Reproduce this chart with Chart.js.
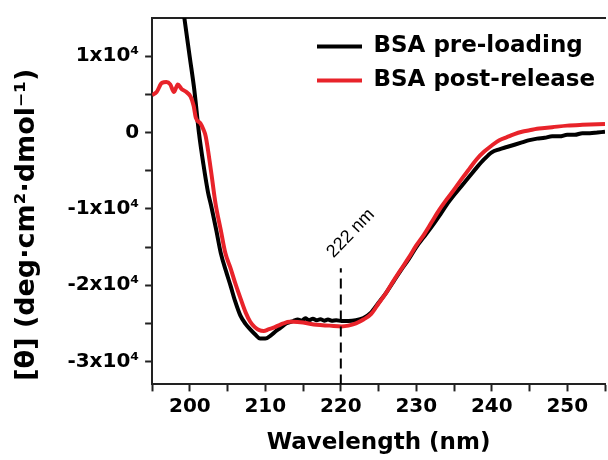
<!DOCTYPE html>
<html>
<head>
<meta charset="utf-8">
<script src="https://cdn.jsdelivr.net/npm/chart.js@4.4.1/dist/chart.umd.min.js"></script>
<style>
  html, body { margin: 0; padding: 0; background: #fff; }
  #box { width: 608px; height: 460px; position: relative; }
</style>
</head>
<body>
<div id="box"><canvas id="cd"></canvas></div>
<script>
// CD spectra, values
var seriesNames = ['BSA pre-loading', 'BSA post-release'];

var wavePre = [198.4, 199.3, 200.0, 200.6, 201.2, 201.8, 202.4, 202.8, 203.5, 204.1, 204.8, 205.4, 206.0, 206.7, 207.4, 208.0, 208.7, 209.3, 210.0, 210.7, 211.3, 212.0, 212.8, 213.7, 214.3, 214.8, 215.3, 215.8, 216.3, 216.8, 217.3, 217.8, 218.3, 218.8, 219.4, 220.1, 221.0, 222.0, 223.0, 224.0, 225.0, 226.0, 227.0, 228.0, 229.0, 230.0, 231.0, 232.0, 233.0, 234.0, 235.0, 236.0, 237.0, 238.0, 239.0, 240.0, 241.0, 242.0, 243.0, 244.0, 245.0, 246.0, 247.0, 248.0, 249.0, 250.0, 251.0, 252.0, 253.0, 254.0, 255.0];
var thetaPre = [22000, 14800, 9800, 5500, 0, -4200, -7800, -9500, -12800, -15800, -18200, -20100, -22100, -24000, -25100, -25800, -26500, -27000, -27000, -26600, -26100, -25600, -25000, -24700, -24500, -24650, -24350, -24600, -24400, -24600, -24450, -24650, -24500, -24650, -24600, -24700, -24700, -24600, -24300, -23600, -22300, -21000, -19500, -18000, -16600, -15000, -13700, -12400, -11000, -9500, -8200, -7000, -5800, -4600, -3500, -2600, -2200, -1900, -1600, -1300, -1000, -800, -700, -500, -500, -300, -300, -100, -100, 0, 100];

var wavePost = [195.0, 195.6, 196.3, 196.9, 197.4, 197.9, 198.4, 198.9, 199.4, 200.1, 200.5, 200.8, 201.4, 201.8, 202.1, 202.8, 203.4, 204.1, 204.7, 205.4, 206.0, 206.7, 207.4, 208.0, 208.6, 209.2, 209.8, 210.4, 211.0, 211.7, 212.4, 213.2, 213.7, 215.0, 216.8, 218.5, 220.1, 221.0, 222.0, 223.0, 224.0, 225.0, 226.0, 227.0, 228.0, 229.0, 230.0, 231.0, 232.0, 233.0, 234.0, 235.0, 236.0, 237.0, 238.0, 239.0, 240.0, 241.0, 242.0, 243.0, 244.0, 245.0, 246.0, 247.0, 248.0, 250.0, 252.0, 255.0];
var thetaPost = [4900, 5300, 6500, 6600, 6300, 5300, 6300, 5700, 5400, 4700, 3500, 1900, 1200, 400, -500, -5000, -9300, -12800, -15800, -17800, -19700, -21700, -23600, -24800, -25500, -25900, -26000, -25800, -25600, -25300, -25000, -24800, -24800, -24900, -25200, -25300, -25400, -25300, -25000, -24500, -23800, -22400, -21000, -19400, -17900, -16400, -14800, -13400, -11800, -10200, -8800, -7500, -6100, -4800, -3500, -2500, -1700, -1000, -600, -200, 100, 300, 500, 600, 700, 900, 1000, 1100];

var markerX = 220;
var markerTop = -17800;
var markerLabel = '222 nm';

var xMin = 195, xMax = 255;
var yMin = -33000, yMax = 15000;
var xTickLabels = [200, 210, 220, 230, 240, 250];
var yTickLabels = [10000, 0, -10000, -20000, -30000];

function toPoints(xs, ys) {
  return xs.map(function(v, i) { return {x: v, y: ys[i]}; });
}

var FONT = '"DejaVu Sans", Arial, sans-serif';
var FONT2 = '"Liberation Sans", Arial, sans-serif';

// ticks every `step` (major + minor) between lo and hi, only some get a label
function stepTicks(step, lo, hi) {
  return function(scale) {
    var out = [];
    for (var v = lo; v <= hi + 1e-9; v += step) {
      out.push({value: v});
    }
    scale.ticks = out;
  };
}

var legendSpot = {
  id: 'legendSpot',
  afterLayout: function(chart) {
    var lg = chart.legend, ca = chart.chartArea;
    if (!lg) return;
    var w = lg.width, h = lg.height;
    lg.left = ca.right - 299;
    lg.right = lg.left + w;
    lg.top = ca.top + 6;
    lg.bottom = lg.top + h;
  }
};

var markerText = {
  id: 'markerText',
  afterDatasetsDraw: function(chart) {
    var ctx = chart.ctx;
    var px = chart.scales.x.getPixelForValue(markerX);
    var py = chart.scales.y.getPixelForValue(markerTop);
    ctx.save();
    ctx.translate(px + 10, py - 35);
    ctx.rotate(-46 * Math.PI / 180);
    ctx.font = '18px ' + FONT2;
    ctx.fillStyle = '#000';
    ctx.textAlign = 'center';
    ctx.textBaseline = 'middle';
    ctx.fillText(markerLabel, 0, 0);
    ctx.restore();
  }
};

var config = {
  type: 'line',
  data: {
    datasets: [{
      label: seriesNames[0],
      data: toPoints(wavePre, thetaPre),
      borderColor: '#000000',
      backgroundColor: '#000000',
      borderWidth: 4,
      pointRadius: 0,
      fill: false,
      cubicInterpolationMode: 'monotone',
      order: 2
    }, {
      label: seriesNames[1],
      data: toPoints(wavePost, thetaPost),
      borderColor: '#e8232a',
      backgroundColor: '#e8232a',
      borderWidth: 4,
      pointRadius: 0,
      fill: false,
      cubicInterpolationMode: 'monotone',
      order: 1
    }, {
      label: 'marker',
      data: [{x: markerX, y: yMin}, {x: markerX, y: markerTop}],
      borderColor: '#000000',
      borderWidth: 2,
      borderDash: [10, 6],
      pointRadius: 0,
      fill: false,
      order: 0
    }]
  },
  options: {
    responsive: true,
    maintainAspectRatio: false,
    animation: false,
    layout: { padding: { left: 4, right: 0, top: 6, bottom: 0 } },
    plugins: {
      tooltip: { enabled: false },
      legend: {
        position: 'chartArea',
        align: 'start',
        labels: {
          boxWidth: 45,
          boxHeight: 4,
          padding: 11,
          color: '#000',
          font: { family: FONT, size: 23, weight: 'bold' },
          filter: function(item) { return item.datasetIndex < 2; },
          sort: function(a, b) { return a.datasetIndex - b.datasetIndex; },
          generateLabels: function(chart) {
            var items = Chart.defaults.plugins.legend.labels.generateLabels(chart);
            items.forEach(function(it) { it.lineWidth = 0; it.fillStyle = it.strokeStyle; });
            return items;
          }
        }
      }
    },
    scales: {
      x: {
        type: 'linear',
        min: xMin, max: xMax,
        afterBuildTicks: stepTicks(5, 195, 255),
        ticks: {
          autoSkip: false,
          maxRotation: 0,
          padding: 3,
          color: '#000',
          font: { family: FONT, size: 20, weight: 'bold' },
          callback: function(v) { return xTickLabels.indexOf(v) >= 0 ? String(v) : ''; }
        },
        grid: { display: true, drawOnChartArea: false, tickLength: 7, tickWidth: 2, tickColor: '#222' },
        border: { display: true, color: '#222', width: 2 },
        title: {
          display: true,
          text: 'Wavelength (nm)',
          color: '#000',
          font: { family: FONT, size: 23, weight: 'bold' },
          padding: { top: 8, bottom: 3 }
        }
      },
      xTop: {
        type: 'linear',
        position: 'top',
        min: xMin, max: xMax,
        ticks: { display: false },
        grid: { display: false },
        border: { display: true, color: '#222', width: 2 }
      },
      y: {
        min: yMin, max: yMax,
        afterBuildTicks: stepTicks(5000, -30000, 10000),
        ticks: {
          autoSkip: false,
          padding: 6,
          color: '#000',
          font: { family: FONT, size: 20, weight: 'bold' },
          callback: function(v) {
            if (yTickLabels.indexOf(v) < 0) return '';
            if (v === 0) return '0';
            return (v / 10000) + 'x10\u2074';
          }
        },
        grid: { display: true, drawOnChartArea: false, tickLength: 7, tickWidth: 2, tickColor: '#222' },
        border: { display: true, color: '#222', width: 2 },
        title: {
          display: true,
          text: '[\u03b8] (deg\u00b7cm\u00b2\u00b7dmol\u207b\u00b9)     ',
          color: '#000',
          font: { family: FONT, size: 27, weight: 'bold' },
          padding: { top: 7, bottom: 18 }
        }
      }
    }
  },
  plugins: [legendSpot, markerText]
};

window.myChart = new Chart(document.getElementById('cd'), config);
</script>
</body>
</html>
